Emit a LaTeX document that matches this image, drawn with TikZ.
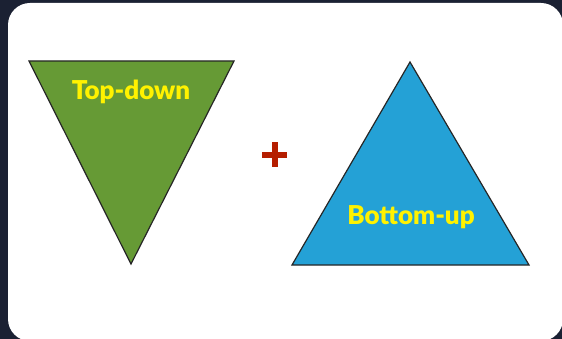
\documentclass[tikz,border=0pt]{standalone}
\usepackage{fontspec}
\setmainfont{Lato}[BoldFont={Lato Black}]
\definecolor{bgdark}{HTML}{1B2133}
\definecolor{trigreen}{HTML}{669A35}
\definecolor{triblue}{HTML}{24A1D6}
\definecolor{txtyellow}{HTML}{FFF200}
\definecolor{plusred}{HTML}{B51E00}
\begin{document}
\begin{tikzpicture}[x=1pt,y=-1pt,
  tri/.style={draw=black!85,line width=1.2pt,line join=miter},
  lbl/.style={text=txtyellow,font=\fontsize{26}{26}\selectfont\bfseries,inner sep=0pt,anchor=base}]
\useasboundingbox (0,0) rectangle (562,339);
\fill[bgdark] (0,0) rectangle (562,339);
\fill[white,rounded corners=22pt] (8,3) rectangle (563,341);
\draw[tri,fill=trigreen] (29,61) -- (234,61) -- (131,264) -- cycle;
\draw[tri,fill=triblue] (410,62) -- (529,265) -- (292,265) -- cycle;
\fill[plusred] (262,152) rectangle (287,158);
\fill[plusred] (272,142) rectangle (278,167);
\node[lbl] (td) at (131,100) {Top-down};
\node[lbl] (bu) at (411,224) {Bottom-up};
\end{tikzpicture}
\end{document}
